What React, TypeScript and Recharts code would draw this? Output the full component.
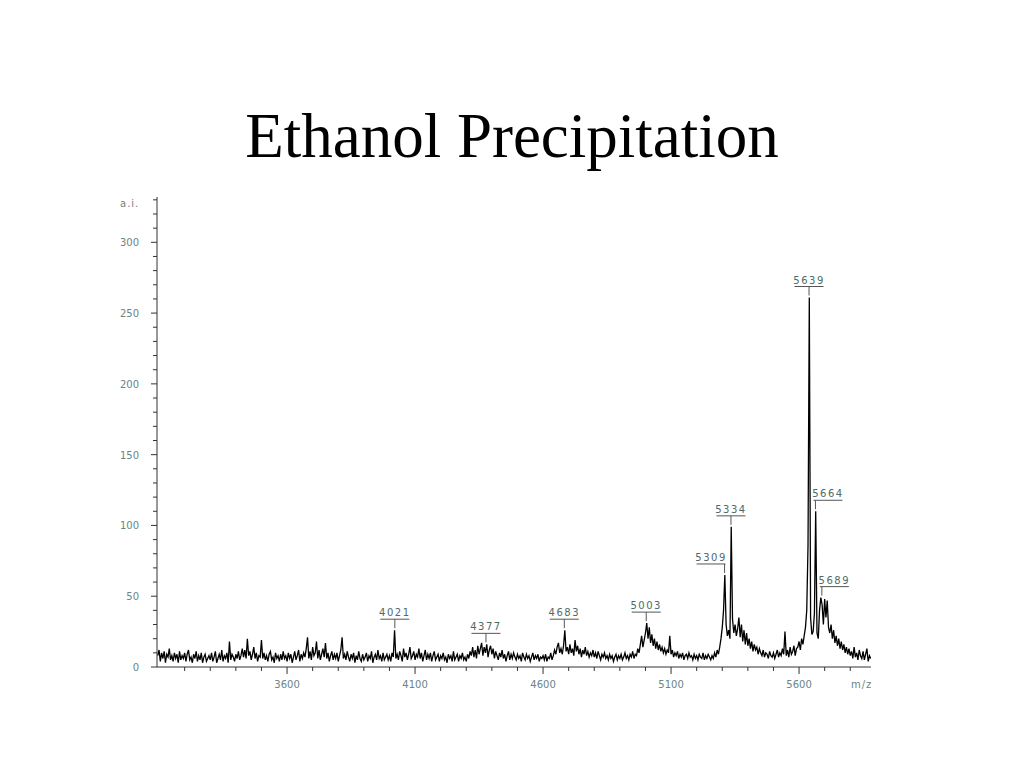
import React from 'react';
import { LineChart, Line, XAxis, YAxis, ReferenceDot } from 'recharts';

// Sampling grid of the spectrum (m/z)
const MZ_START = 3095;
const MZ_STEP = 5;

// Intensity (a.i.), one row per 100 m/z
const intensity: number[] = [
  8, 12, 4, 10, 6, 11, 3, 9, 7, 13, 5, 8, 4, 10, 6, 9, 3, 11, 5, 8,
  6, 10, 4, 9, 12, 5, 7, 3, 9, 6, 11, 4, 8, 5, 10, 3, 7, 9, 4, 6,
  8, 5, 10, 4, 7, 11, 3, 6, 9, 5, 12, 4, 8, 6, 10, 3, 18, 5, 9, 7,
  4, 9, 6, 11, 5, 8, 13, 7, 12, 6, 20, 8, 11, 5, 9, 14, 6, 10, 4, 8,
  7, 19, 6, 10, 5, 8, 4, 9, 11, 5, 7, 3, 10, 6, 8, 4, 9, 5, 11, 6,
  8, 4, 10, 6, 9, 3, 7, 11, 5, 8, 12, 4, 9, 6, 10, 7, 13, 21, 6, 11,
  5, 14, 8, 10, 18, 6, 12, 5, 9, 13, 7, 17, 6, 10, 4, 8, 11, 5, 9, 6,
  10, 4, 8, 12, 21, 6, 9, 5, 11, 7, 4, 9, 6, 10, 3, 8, 5, 11, 6, 4,
  9, 5, 7, 10, 4, 8, 6, 11, 3, 7, 9, 5, 12, 6, 8, 4, 10, 5, 7, 9,
  5, 8, 4, 10, 7, 26, 6, 9, 5, 11, 8, 4, 13, 7, 10, 5, 9, 14, 6, 8,
  11, 5, 9, 7, 13, 6, 10, 4, 8, 12, 5, 9, 6, 10, 4, 8, 11, 5, 7, 9,
  4, 8, 6, 10, 5, 7, 3, 9, 6, 8, 4, 11, 5, 7, 9, 4, 8, 6, 10, 5,
  7, 4, 9, 6, 11, 8, 14, 7, 12, 6, 15, 9, 13, 17, 8, 14, 10, 16, 7, 12,
  15, 9, 13, 6, 11, 8, 5, 10, 7, 12, 6, 9, 4, 8, 11, 5, 9, 6, 10, 7,
  5, 9, 6, 8, 4, 10, 7, 5, 9, 6, 8, 4, 7, 10, 5, 8, 6, 9, 4, 7,
  6, 8, 5, 9, 4, 7, 6, 10, 5, 8, 12, 9, 14, 17, 10, 13, 9, 15, 26, 11,
  14, 9, 16, 10, 13, 8, 19, 11, 15, 9, 13, 7, 12, 9, 14, 8, 11, 7, 10, 8,
  12, 7, 10, 6, 11, 8, 5, 9, 7, 10, 6, 8, 5, 9, 6, 8, 4, 7, 9, 5,
  8, 6, 9, 5, 7, 10, 6, 8, 5, 9, 7, 11, 6, 9, 8, 13, 10, 16, 22, 14,
  19, 24, 31, 20, 28, 17, 23, 15, 20, 13, 18, 12, 16, 11, 14, 10, 13, 9, 12, 10,
  22, 9, 12, 7, 10, 8, 11, 6, 9, 7, 10, 5, 8, 9, 6, 10, 7, 8, 5, 9,
  6, 8, 5, 9, 7, 6, 10, 5, 8, 6, 9, 7, 5, 8, 6, 10, 7, 12, 9, 14,
  20, 28, 40, 65, 30, 22, 26, 20, 99, 34, 24, 30, 22, 27, 35, 21, 30, 18, 26, 16,
  24, 15, 20, 13, 18, 11, 16, 12, 14, 9, 13, 10, 8, 12, 7, 10, 9, 6, 11, 8,
  7, 10, 6, 9, 12, 7, 10, 8, 13, 9, 25, 8, 12, 7, 14, 9, 11, 15, 8, 13,
  14, 18, 12, 20, 16, 22, 28, 40, 86, 261, 35, 23, 25, 38, 110, 24, 20, 40, 49, 44,
  30, 48, 35, 47, 28, 24, 30, 20, 26, 17, 22, 15, 20, 13, 18, 12, 16, 10, 14, 9,
  13, 8, 11, 6, 14, 7, 10, 5, 12, 8, 6, 11, 5, 9, 13, 4, 8, 6,
];

const xTicks = [3200, 3300, 3400, 3500, 3600, 3700, 3800, 3900, 4000, 4100, 4200, 4300, 4400, 4500, 4600, 4700, 4800, 4900, 5000, 5100, 5200, 5300, 5400, 5500, 5600, 5700, 5800];
const xLabelTicks = [3600, 4100, 4600, 5100, 5600];
const yTicks = [0, 10, 20, 30, 40, 50, 60, 70, 80, 90, 100, 110, 120, 130, 140, 150, 160, 170, 180, 190, 200, 210, 220, 230, 240, 250, 260, 270, 280, 290, 300, 310, 320, 330];
const yLabelTicks = [0, 50, 100, 150, 200, 250, 300];

// Annotated peaks
const peakMz = [4021, 4377, 4683, 5003, 5309, 5334, 5639, 5664, 5689];
const peakTop = [26, 16, 26, 31, 65, 99, 261, 110, 49];
const peakAnchor = ['c', 'c', 'c', 'c', 'l', 'c', 'c', 'r', 'r'];

const data = intensity.map((v, i) => ({ mz: MZ_START + i * MZ_STEP, ai: v }));

const AXIS = '#333';
const TICK_TEXT = '#6a8585';
const PEAK_TEXT = '#4d6a6a';
const FONT = '"DejaVu Sans", sans-serif';

const XTick = (props: any) => {
  const { x, y, payload } = props;
  const v = payload.value;
  const major = xLabelTicks.includes(v);
  return (
    <g>
      <line x1={x} x2={x} y1={y} y2={y + (major ? 7 : 4)} stroke={AXIS} strokeWidth={1} />
      {major && (
        <text x={x} y={y + 21} textAnchor="middle" fontFamily={FONT} fontSize={10} fill={TICK_TEXT}>
          {v}
        </text>
      )}
    </g>
  );
};

const YTick = (props: any) => {
  const { x, y, payload } = props;
  const v = payload.value;
  const major = yLabelTicks.includes(v);
  return (
    <g>
      <line x1={x - (major ? 6 : 4)} x2={x} y1={y} y2={y} stroke={AXIS} strokeWidth={1} />
      {major && (
        <text x={x - 18} y={y + 4} textAnchor="end" fontFamily={FONT} fontSize={10} fill={TICK_TEXT}>
          {v}
        </text>
      )}
    </g>
  );
};

const makePeakShape = (label: number, anchor: string) => (props: any) => {
  const { cx, cy } = props;
  const lineY = cy - 11;
  const w = 29;
  let left = cx - w / 2;
  if (anchor === 'l') left = cx - w + 1;
  if (anchor === 'r') left = cx - 2;
  return (
    <g>
      <line x1={cx} x2={cx} y1={cy - 2} y2={lineY} stroke="#555" strokeWidth={1} />
      <line x1={left} x2={left + w} y1={lineY} y2={lineY} stroke="#555" strokeWidth={1} />
      <text x={left + w / 2} y={lineY - 3} textAnchor="middle" fontFamily={FONT} fontSize={10} letterSpacing={1.5} fill={PEAK_TEXT}>
        {label}
      </text>
    </g>
  );
};

export default function App() {
  return (
    <div style={{ position: 'absolute', left: 0, top: 0, width: 1024, height: 768, background: '#fff' }}>
      <svg width={1024} height={768} style={{ position: 'absolute', left: 0, top: 0 }}>
        <text x={512} y={157} textAnchor="middle" fontFamily='"Liberation Serif", "Times New Roman", serif' fontSize={63} fill="#000">
          Ethanol Precipitation
        </text>
        <text x={120} y={207} fontFamily={FONT} fontSize={10} letterSpacing={1} fill={TICK_TEXT}>a.i.</text>
        <text x={851} y={688} fontFamily={FONT} fontSize={10} letterSpacing={1} fill={TICK_TEXT}>m/z</text>
      </svg>
      <div style={{ position: 'absolute', left: 0, top: 0 }}>
        <LineChart width={1024} height={768} data={data} margin={{ top: 197, right: 153, bottom: 71, left: 97 }}>
          <XAxis
            dataKey="mz"
            type="number"
            domain={[3092, 5881]}
            allowDataOverflow
            ticks={xTicks}
            interval={0}
            tick={<XTick />}
            tickLine={false}
            tickSize={0}
            tickMargin={0}
            height={30}
            axisLine={{ stroke: AXIS }}
          />
          <YAxis
            type="number"
            domain={[0, 332]}
            allowDataOverflow
            ticks={yTicks}
            interval={0}
            tick={<YTick />}
            tickLine={false}
            tickSize={0}
            tickMargin={0}
            width={60}
            axisLine={{ stroke: AXIS }}
          />
          <Line
            type="linear"
            dataKey="ai"
            stroke="#000"
            strokeWidth={1.3}
            dot={false}
            isAnimationActive={false}
          />
          {peakMz.map((m, i) => (
            <ReferenceDot
              key={m}
              x={m}
              y={peakTop[i]}
              r={0}
              ifOverflow="visible"
              shape={makePeakShape(m, peakAnchor[i])}
            />
          ))}
        </LineChart>
      </div>
    </div>
  );
}
